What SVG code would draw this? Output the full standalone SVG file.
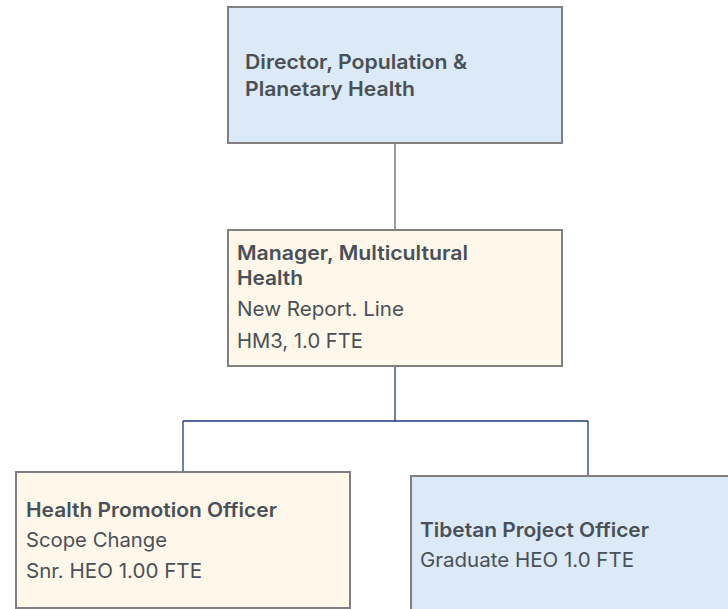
<svg xmlns="http://www.w3.org/2000/svg" width="728" height="609" viewBox="0 0 728 609">
<style>
.box{stroke:#808080;stroke-width:2}
.blue{fill:#dce9f6}
.cream{fill:#fef7ea}
text{font-family:Inter,"Noto Sans",sans-serif;font-size:20px;fill:#4a5057}
.b{font-weight:600}
.c{stroke:#1f3a78;stroke-width:1.3;fill:none}
</style>
<rect width="728" height="609" fill="#ffffff"/>
<g id="connectors">
<line x1="395" y1="143" x2="395" y2="230" stroke="#666" stroke-width="1.3"/>
<path class="c" d="M395 366 V421 M183 421 H588 M183 421 V472 M588 421 V476"/>
</g>
<g id="director">
<rect class="box blue" x="228" y="7" width="334" height="136"/>
<text class="b" x="245" y="69" textLength="222" lengthAdjust="spacingAndGlyphs">Director, Population &amp;</text>
<text class="b" x="245" y="96" textLength="170" lengthAdjust="spacingAndGlyphs">Planetary Health</text>
</g>
<g id="manager">
<rect class="box cream" x="228" y="230" width="334" height="136"/>
<text class="b" x="237" y="260" textLength="231" lengthAdjust="spacingAndGlyphs">Manager, Multicultural</text>
<text class="b" x="237" y="285" textLength="66" lengthAdjust="spacingAndGlyphs">Health</text>
<text x="237" y="316" textLength="167" lengthAdjust="spacingAndGlyphs">New Report. Line</text>
<text x="237" y="348" textLength="126" lengthAdjust="spacingAndGlyphs">HM3, 1.0 FTE</text>
</g>
<g id="hpo">
<rect class="box cream" x="16" y="472" width="334" height="136"/>
<text class="b" x="26" y="517" textLength="251" lengthAdjust="spacingAndGlyphs">Health Promotion Officer</text>
<text x="26" y="547" textLength="141" lengthAdjust="spacingAndGlyphs">Scope Change</text>
<text x="26" y="578" textLength="176" lengthAdjust="spacingAndGlyphs">Snr. HEO 1.00 FTE</text>
</g>
<g id="tpo">
<rect class="box blue" x="411" y="476" width="340" height="140"/>
<text class="b" x="420" y="537" textLength="229" lengthAdjust="spacingAndGlyphs">Tibetan Project Officer</text>
<text x="420" y="567" textLength="214" lengthAdjust="spacingAndGlyphs">Graduate HEO 1.0 FTE</text>
</g>
</svg>
